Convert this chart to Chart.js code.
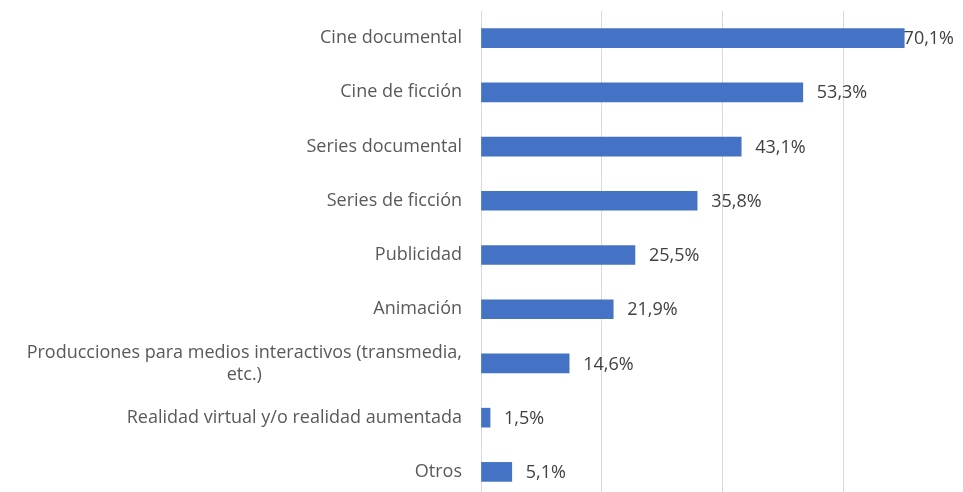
<!DOCTYPE html>
<html>
<head>
<meta charset="utf-8">
<script src="https://cdn.jsdelivr.net/npm/chart.js@4"></script>
<style>
  html, body { margin: 0; padding: 0; background: #fff; overflow: hidden; }
  #wrap { position: relative; width: 970px; height: 500px; }
</style>
</head>
<body>
<div id="wrap"><canvas id="chart"></canvas></div>
<script>
// ============================
// DATOS
// ============================

const categories = [
  ["Cine documental"],
  ["Cine de ficción"],
  ["Series documental"],
  ["Series de ficción"],
  ["Publicidad"],
  ["Animación"],
  ["Producciones para medios interactivos (transmedia,", "etc.)"],
  ["Realidad virtual y/o realidad aumentada"],
  ["Otros"]
];

const percentages = [70.1, 53.3, 43.1, 35.8, 25.5, 21.9, 14.6, 1.5, 5.1];

const xTicks = [0, 20, 40, 60, 80];

// ============================
// ESTILO
// ============================

const FONT_FAMILY = "'Open Sans', sans-serif";
const FONT_SIZE = 18;
const BAR_COLOR = "#4472c4";
const LABEL_COLOR = "#595959";
const VALUE_COLOR = "#404040";
const GRID_COLOR = "#d9d9d9";

function formatPct(v) {
  return v.toFixed(1).replace(".", ",") + "%";
}

// ============================
// PLUGINS
// ============================

// categorías a la izquierda, líneas partidas centradas entre sí
const categoryLabelsPlugin = {
  id: "categoryLabelsPlugin",
  afterDraw(chart) {
    const ctx = chart.ctx;
    const yScale = chart.scales.y;
    const rightX = chart.chartArea.left - 19;
    const lineHeight = 22;

    ctx.save();
    ctx.font = `${FONT_SIZE}px ${FONT_FAMILY}`;
    ctx.fillStyle = LABEL_COLOR;
    ctx.textBaseline = "middle";
    ctx.textAlign = "center";

    categories.forEach((lines, i) => {
      const y = yScale.getPixelForTick(i);
      const maxW = Math.max(...lines.map(l => ctx.measureText(l).width));
      const cx = rightX - maxW / 2;
      const startY = y - (lines.length - 1) * lineHeight / 2;
      lines.forEach((line, j) => {
        ctx.fillText(line, cx, startY + j * lineHeight);
      });
    });
    ctx.restore();
  }
};

// etiqueta de valor al final de cada barra
const valueLabelsPlugin = {
  id: "valueLabelsPlugin",
  afterDatasetsDraw(chart) {
    const ctx = chart.ctx;
    const meta = chart.getDatasetMeta(0);

    ctx.save();
    ctx.font = `${FONT_SIZE}px ${FONT_FAMILY}`;
    ctx.fillStyle = VALUE_COLOR;
    ctx.textBaseline = "middle";
    ctx.textAlign = "left";

    meta.data.forEach((bar, i) => {
      const text = formatPct(percentages[i]);
      const w = ctx.measureText(text).width;
      const x = Math.min(bar.x + 14, chart.chartArea.right - 10 - w);
      ctx.fillText(text, x, bar.y + 1);
    });
    ctx.restore();
  }
};

// ============================
// GRÁFICA
// ============================

new Chart(document.getElementById("chart"), {
  type: "bar",
  data: {
    labels: categories.map(c => c.join(" ")),
    datasets: [{
      data: percentages,
      backgroundColor: BAR_COLOR,
      borderWidth: 0,
      barThickness: 19
    }]
  },
  options: {
    indexAxis: "y",
    responsive: true,
    maintainAspectRatio: false,
    animation: false,
    layout: {
      padding: { top: 11, right: 6, bottom: 1, left: 0 }
    },
    plugins: {
      legend: { display: false },
      tooltip: { enabled: false }
    },
    scales: {
      x: {
        min: xTicks[0],
        max: xTicks[xTicks.length - 1],
        afterBuildTicks: scale => {
          scale.ticks = xTicks.map(v => ({ value: v }));
        },
        ticks: { display: false },
        border: { display: false },
        grid: {
          color: GRID_COLOR,
          lineWidth: 1,
          drawTicks: false
        }
      },
      y: {
        ticks: { display: false },
        border: { display: false },
        grid: { display: false, drawTicks: false },
        afterFit: scale => {
          scale.width = 481;
        }
      }
    }
  },
  plugins: [categoryLabelsPlugin, valueLabelsPlugin]
});
</script>
</body>
</html>
